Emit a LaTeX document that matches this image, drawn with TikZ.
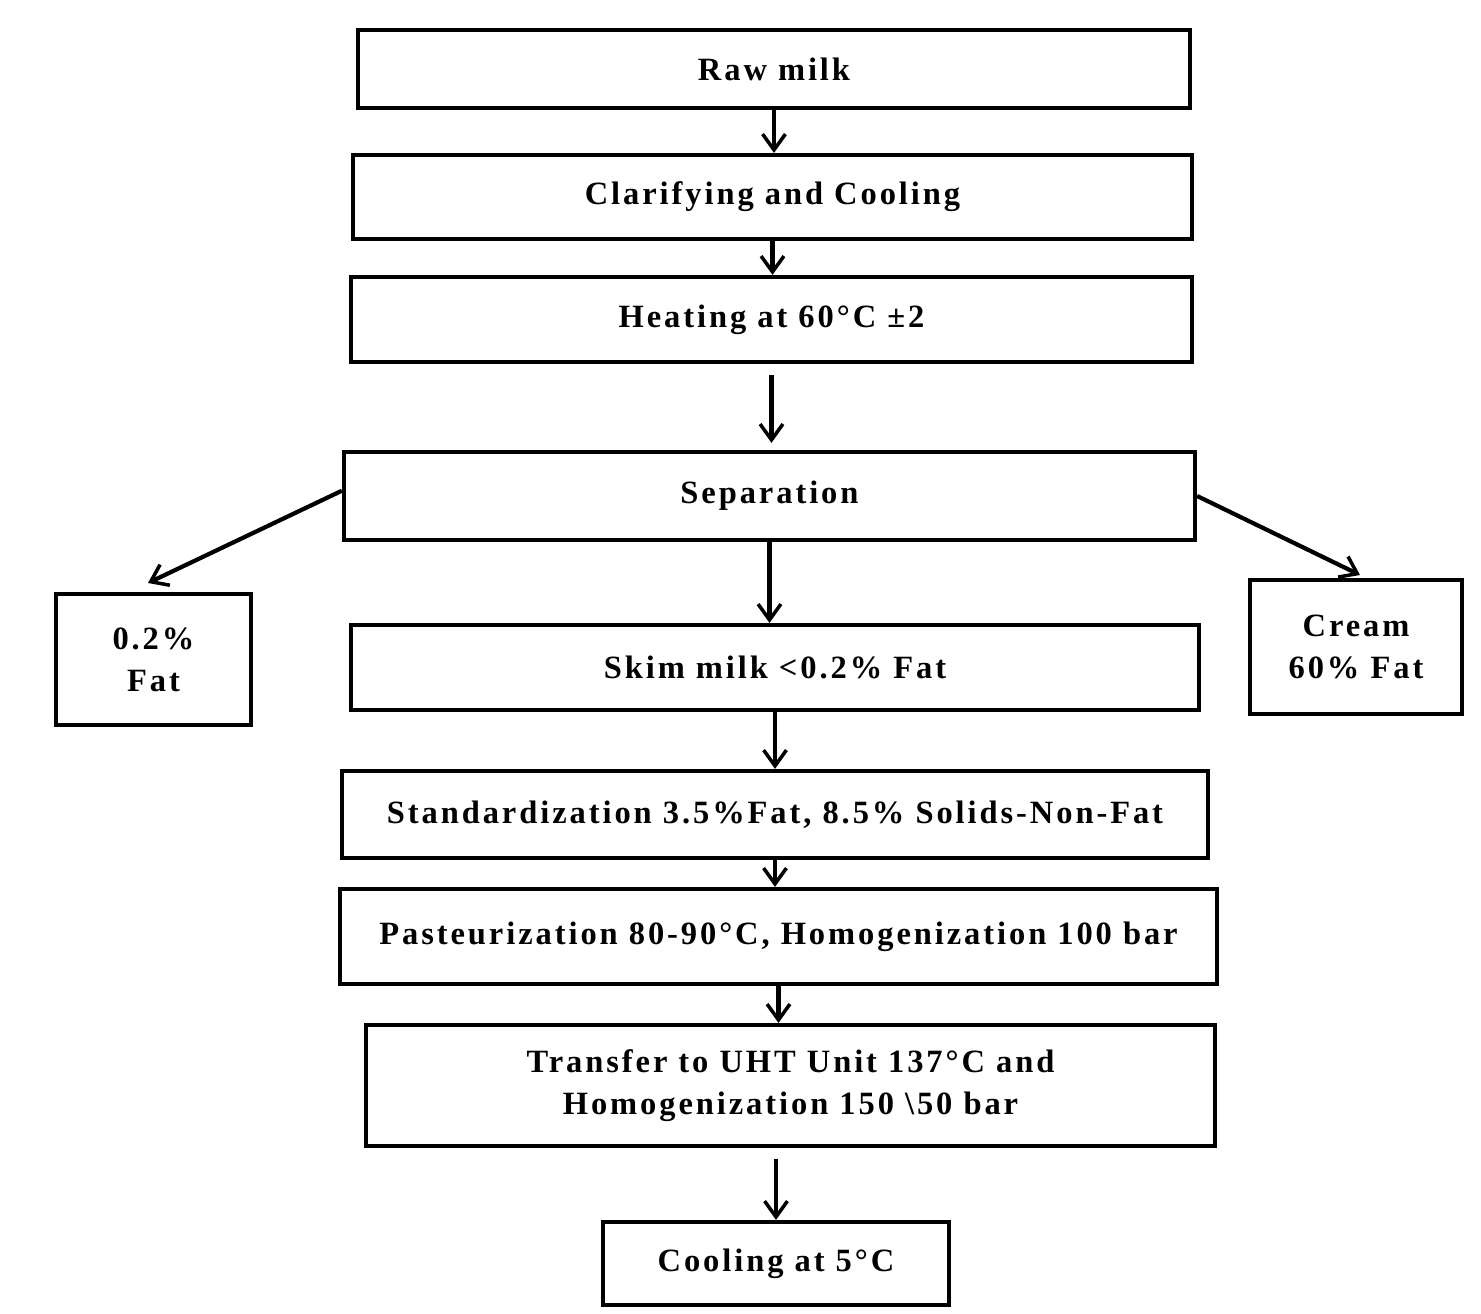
\documentclass[tikz,border=0pt]{standalone}
\usepackage{fontspec}
\setmainfont{Liberation Serif}[LetterSpace=9]
\usetikzlibrary{arrows.meta}
\begin{document}
\begin{tikzpicture}[x=0.02cm,y=-0.02cm,
 box/.style={draw,line width=2.4pt,inner sep=0pt,align=center,font=\fontsize{18.5}{24}\selectfont\bfseries},
 arr/.style={line width=2.4pt,-{Straight Barb[length=9pt,width=13pt,line width=2pt]}}]
\useasboundingbox (0,0) rectangle (1481,1314);
\newcommand\bx[6]{\node[box,minimum width={(#4-#2)*0.02cm},minimum height={(#5-#3)*0.02cm}] (#1) at ({(#2+#4)/2},{(#3+#5)/2}) {#6};}
\bx{raw}{358}{30}{1190}{108}{Raw milk}
\bx{cla}{353}{155}{1192}{239}{Clarifying and Cooling}
\bx{hea}{351}{277}{1192}{362}{Heating at 60°C ±2}
\bx{sep}{344}{452}{1195}{540}{Separation}
\bx{fat}{56}{594}{251}{725}{0.2\%\\Fat}
\bx{cre}{1250}{580}{1462}{714}{Cream\\60\% Fat}
\bx{ski}{351}{625}{1199}{710}{Skim milk <0.2\% Fat}
\bx{sta}{342}{771}{1208}{858}{Standardization 3.5\%Fat, 8.5\% Solids-Non-Fat}
\bx{pas}{340}{889}{1217}{984}{Pasteurization 80-90°C, Homogenization 100 bar}
\bx{tra}{366}{1025}{1215}{1146}{Transfer to UHT Unit 137°C and\\Homogenization 150 \textbackslash 50 bar}
\bx{coo}{603}{1222}{949}{1305}{Cooling at 5°C}
\coordinate (f1) at (148,583);
\coordinate (c1) at (1360,575);
\draw[arr] (raw.south) -- (raw.south |- cla.north);
\draw[arr] (cla.south) -- (cla.south |- hea.north);
\draw[arr] ([yshift=-6pt]hea.south) -- ([yshift=4pt]hea.south |- sep.north);
\draw[arr] (sep.south) -- (sep.south |- ski.north);
\draw[arr] (ski.south) -- (ski.south |- sta.north);
\draw[arr] (sta.south) -- (sta.south |- pas.north);
\draw[arr] (pas.south) -- (pas.south |- tra.north);
\draw[arr] ([yshift=-6pt]coo.north |- tra.south) -- (coo.north);
\draw[arr] ([yshift=3pt]sep.west) -- (f1);
\draw[arr] (sep.east) -- (c1);
\end{tikzpicture}
\end{document}
